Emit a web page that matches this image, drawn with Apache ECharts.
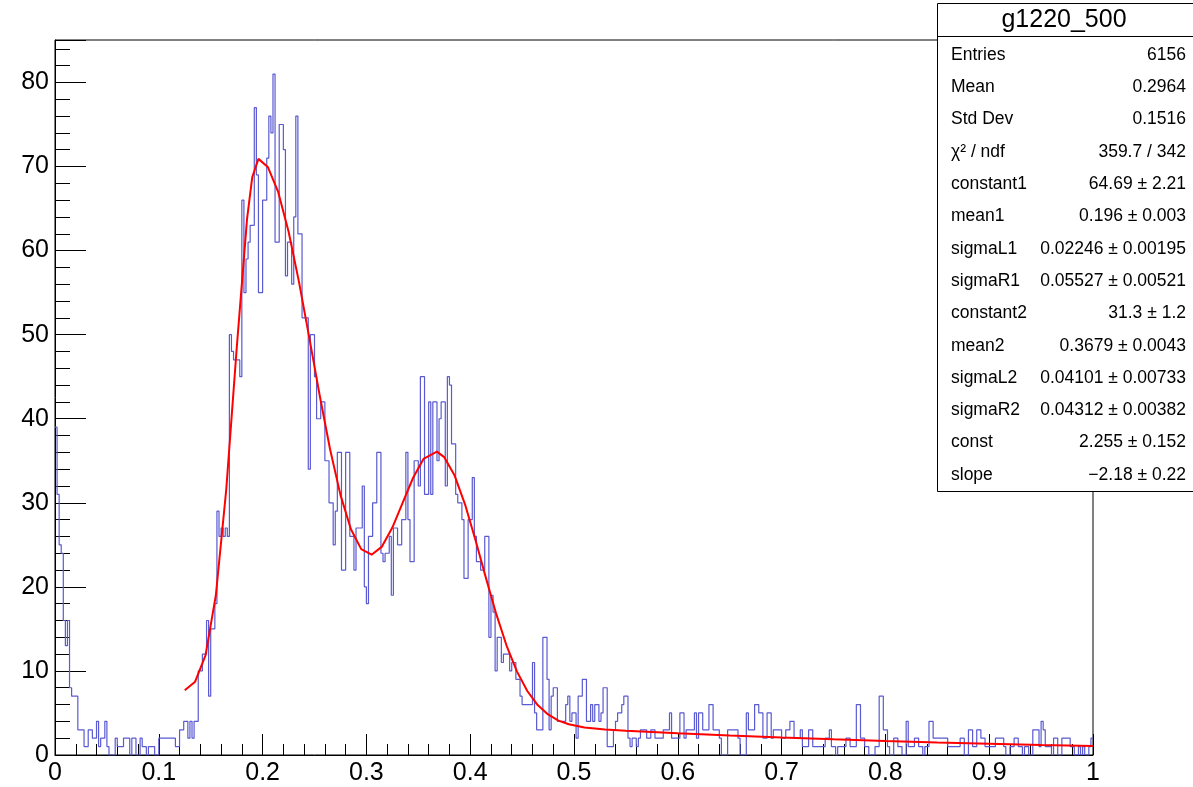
<!DOCTYPE html>
<html>
<head>
<meta charset="utf-8">
<script src="https://cdn.jsdelivr.net/npm/echarts@6/dist/echarts.min.js"></script>
<style>
html,body{margin:0;padding:0;background:#fff;}
#chart{width:1193px;height:787px;}
</style>
</head>
<body>
<div id="chart"></div>
<script>
// Histogram: 500 bins from 0 to 1
const binStart = 0;
const binWidth = 0.002;
const counts = [
39,31,25,24,16,13,16,8,7,7,
7,3,3,3,1,1,3,3,2,2,
4,1,2,2,4,1,0,0,0,2,
1,1,1,2,2,2,0,2,2,0,
0,2,1,1,0,1,1,1,0,0,
2,2,2,2,2,2,2,2,1,1,
3,3,4,4,2,4,2,4,4,10,
10,12,12,16,7,15,15,18,29,26,
27,26,27,26,50,48,47,47,47,45,
66,55,59,61,63,63,77,69,55,55,
66,66,71,76,74,81,61,61,75,75,
72,57,61,61,56,64,76,62,62,52,
52,52,34,50,50,45,40,40,42,42,
35,35,30,30,25,29,36,36,22,22,
36,36,26,26,22,27,27,27,32,20,
18,26,26,30,30,36,36,24,23,24,
24,26,19,27,27,25,25,28,28,36,
28,23,23,35,35,32,45,45,31,31,
42,31,42,42,35,40,42,42,32,45,
44,37,37,31,30,30,28,21,21,28,
28,33,26,23,23,22,22,26,26,14,
19,17,10,14,14,11,12,12,12,10,
11,11,9,9,7,6,6,6,6,6,
11,5,3,3,3,14,14,9,3,7,
8,8,4,4,4,4,6,7,4,5,
5,2,7,7,9,9,4,4,6,4,
6,6,4,5,8,8,1,1,1,3,
4,5,5,6,7,7,2,1,2,2,
1,2,3,3,3,2,2,3,3,2,
2,2,2,3,3,3,5,2,2,2,
2,5,5,2,3,3,3,3,5,2,
5,5,3,3,3,6,6,3,3,3,
2,0,0,0,3,3,3,3,3,2,
0,0,0,5,3,3,3,6,6,5,
5,2,2,5,5,2,3,3,3,3,
2,2,3,3,4,4,2,2,2,3,
1,1,1,3,3,1,1,1,1,1,
1,2,2,3,1,1,0,1,1,1,
1,2,2,1,1,1,6,6,2,2,
1,1,0,0,0,1,1,7,7,3,
3,1,0,0,2,2,1,1,0,0,
4,1,1,1,2,2,1,1,0,1,
1,4,4,2,2,2,2,2,2,2,
1,1,1,1,1,1,2,2,0,0,
3,3,1,1,3,3,2,2,1,1,
1,1,1,2,2,2,2,1,0,0,
1,1,2,2,1,1,0,1,1,0,
0,3,3,3,1,4,3,1,1,1,
0,2,2,0,0,2,2,2,2,1,
1,0,0,1,0,1,0,0,1,2
];

// Fit curve (red)
const fitX = [0.125,0.135,0.145,0.155,0.165,0.175,0.185,0.19,0.196,0.205,0.215,0.225,0.235,0.245,0.255,0.265,0.275,0.285,0.295,0.305,0.315,0.325,0.335,0.345,0.355,0.3679,0.375,0.385,0.395,0.405,0.415,0.425,0.435,0.445,0.455,0.465,0.475,0.485,0.495,0.51,0.53,0.55,0.6,0.65,0.7,0.75,0.8,0.85,0.9,0.95,1.0];
const fitY = [7.70,8.72,11.86,19.03,31.61,48.29,63.75,68.72,70.91,69.95,66.98,62.28,56.31,49.61,42.77,36.37,30.94,26.88,24.49,23.83,24.79,27.06,30.02,32.98,35.22,36.09,35.43,33.24,29.82,25.61,21.13,16.81,13.02,9.95,7.61,5.94,4.82,4.09,3.65,3.28,3.03,2.88,2.58,2.31,2.07,1.86,1.67,1.49,1.34,1.20,1.08];

// Stats box
const statTitle = 'g1220_500';
const statLabels = ['Entries','Mean','Std Dev','\u03c7\u00b2 / ndf','constant1','mean1','sigmaL1','sigmaR1','constant2','mean2','sigmaL2','sigmaR2','const','slope'];
const statValues = ['6156','0.2964','0.1516','359.7 / 342','64.69 \u00b1 2.21','0.196 \u00b1 0.003','0.02246 \u00b1 0.00195','0.05527 \u00b1 0.00521','31.3 \u00b1 1.2','0.3679 \u00b1 0.0043','0.04101 \u00b1 0.00733','0.04312 \u00b1 0.00382','2.255 \u00b1 0.152','\u22122.18 \u00b1 0.22'];

const yMax = 85.05;
const FONT = '"Liberation Sans", Arial, Helvetica, sans-serif';

const histData = counts.map((c, i) => [+(binStart + i * binWidth).toFixed(4), c]);
histData.push([1, counts[counts.length - 1]]);
const fitData = fitX.map((x, i) => [x, fitY[i]]);

const graphics = [];
const boxL = 937.5, boxT = 3.5, boxR = 1200, boxB = 491.5;
graphics.push({type:'rect', shape:{x:boxL, y:boxT, width:boxR-boxL, height:boxB-boxT}, style:{fill:'#fff', stroke:'#000', lineWidth:1}, z:100});
graphics.push({type:'line', shape:{x1:boxL, y1:36.5, x2:boxR, y2:36.5}, style:{stroke:'#000', lineWidth:1}, z:101});
graphics.push({type:'text', style:{x:1064, y:20, text:statTitle, font:'25px ' + FONT, fill:'#000', textAlign:'center', textVerticalAlign:'middle', verticalAlign:'middle'}, z:102});
statLabels.forEach((lab, i) => {
  const y = 55 + i * 32.3;
  graphics.push({type:'text', style:{x:951, y:y, text:lab, font:'17.5px ' + FONT, fill:'#000', textAlign:'left', textVerticalAlign:'middle', verticalAlign:'middle'}, z:102});
  graphics.push({type:'text', style:{x:1186, y:y, text:statValues[i], font:'17.5px ' + FONT, fill:'#000', textAlign:'right', textVerticalAlign:'middle', verticalAlign:'middle'}, z:102});
});

const chart = echarts.init(document.getElementById('chart'), null, {renderer:'canvas'});
chart.setOption({
  animation: false,
  backgroundColor: '#fff',
  grid: {left:55, right:100, top:40, bottom:32, containLabel:false, outerBoundsMode:'none', show:true, borderColor:'#000', borderWidth:1, backgroundColor:'transparent'},
  xAxis: {
    type:'value', min:0, max:1, interval:0.1,
    axisLine:{show:true, onZero:false, lineStyle:{color:'#000', width:1}},
    axisTick:{show:true, inside:true, length:21, lineStyle:{color:'#000', width:1}},
    minorTick:{show:true, splitNumber:5, length:11, lineStyle:{color:'#000', width:1}},
    splitLine:{show:false},
    axisLabel:{color:'#000', fontSize:25, fontFamily:FONT, margin:6,
      formatter: v => (Math.abs(v) < 1e-9 ? '0' : (Math.abs(v-1) < 1e-9 ? '1' : v.toFixed(1)))}
  },
  yAxis: {
    type:'value', min:0, max:yMax, interval:10,
    axisLine:{show:true, onZero:false, lineStyle:{color:'#000', width:1}},
    axisTick:{show:true, inside:true, length:31, lineStyle:{color:'#000', width:1}},
    minorTick:{show:true, splitNumber:5, length:15, lineStyle:{color:'#000', width:1}},
    splitLine:{show:false},
    axisLabel:{color:'#000', fontSize:25, fontFamily:FONT, margin:6, showMaxLabel:false,
      formatter: v => String(Math.round(v))}
  },
  series: [
    {type:'line', data:histData, step:'end', showSymbol:false, symbol:'none',
     lineStyle:{color:'#5a5ad2', width:1.2}, z:3, silent:true},
    {type:'line', data:fitData, showSymbol:false, symbol:'none', smooth:false,
     lineStyle:{color:'#ff0000', width:2}, z:4, silent:true}
  ],
  graphic: graphics
});
</script>
</body>
</html>
